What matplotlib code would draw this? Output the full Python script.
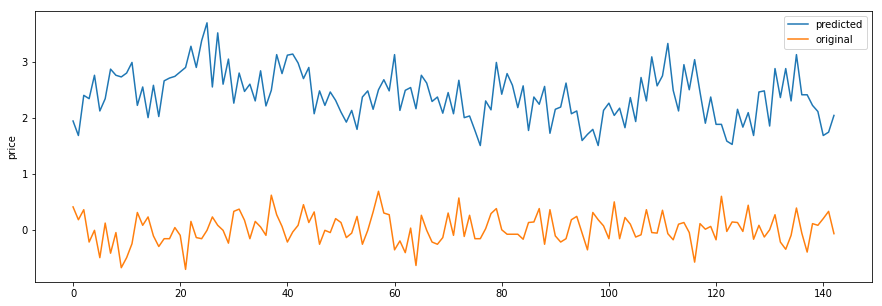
import matplotlib
matplotlib.use("Agg")
import matplotlib.pyplot as plt

# predicted vs original prices (index 0..142)
predicted = [
    1.95, 1.69, 2.41, 2.35, 2.77, 2.13, 2.35, 2.88, 2.77, 2.74,
    2.81, 3.00, 2.23, 2.56, 2.01, 2.59, 2.03, 2.67, 2.72, 2.75,
    2.83, 2.91, 3.29, 2.91, 3.39, 3.71, 2.56, 3.53, 2.61, 3.06,
    2.27, 2.81, 2.48, 2.61, 2.31, 2.85, 2.22, 2.50, 3.14, 2.80,
    3.13, 3.15, 2.99, 2.71, 2.91, 2.08, 2.49, 2.23, 2.47, 2.32,
    2.11, 1.93, 2.14, 1.80, 2.38, 2.49, 2.16, 2.51, 2.69, 2.49,
    3.14, 2.14, 2.50, 2.55, 2.17, 2.77, 2.63, 2.30, 2.38, 2.09,
    2.46, 2.08, 2.68, 2.01, 2.04, 1.78, 1.51, 2.31, 2.15, 3.00,
    2.43, 2.80, 2.59, 2.19, 2.58, 1.78, 2.38, 2.25, 2.57, 1.73,
    2.16, 2.20, 2.63, 2.08, 2.13, 1.60, 1.71, 1.80, 1.51, 2.14,
    2.27, 2.05, 2.18, 1.83, 2.37, 1.94, 2.73, 2.31, 3.10, 2.58,
    2.76, 3.34, 2.50, 2.13, 2.96, 2.51, 3.05, 2.47, 1.91, 2.38,
    1.89, 1.89, 1.59, 1.53, 2.16, 1.84, 2.10, 1.69, 2.47, 2.49,
    1.86, 2.89, 2.37, 2.89, 2.31, 3.14, 2.42, 2.42, 2.23, 2.12,
    1.69, 1.75, 2.05,
]
original = [
    0.41, 0.18, 0.36, -0.22, -0.01, -0.50, 0.12, -0.42, -0.05, -0.68,
    -0.50, -0.25, 0.31, 0.08, 0.23, -0.11, -0.30, -0.16, -0.16, 0.04,
    -0.10, -0.71, 0.15, -0.14, -0.16, -0.01, 0.23, 0.08, -0.01, -0.24,
    0.33, 0.37, 0.17, -0.16, 0.15, 0.05, -0.10, 0.62, 0.27, 0.06,
    -0.22, -0.04, 0.08, 0.45, 0.13, 0.32, -0.26, -0.01, -0.05, 0.20,
    0.13, -0.14, -0.06, 0.24, -0.26, -0.01, 0.32, 0.69, 0.30, 0.27,
    -0.36, -0.20, -0.41, 0.03, -0.64, 0.26, -0.01, -0.22, -0.26, -0.14,
    0.30, -0.10, 0.57, -0.12, 0.26, -0.16, -0.16, 0.02, 0.29, 0.38,
    0.00, -0.08, -0.08, -0.08, -0.17, 0.13, 0.14, 0.38, -0.26, 0.36,
    -0.11, -0.22, -0.16, 0.18, 0.24, -0.06, -0.36, 0.31, 0.18, 0.07,
    -0.16, 0.50, -0.16, 0.22, 0.10, -0.13, -0.09, 0.36, -0.05, -0.06,
    0.35, -0.07, -0.18, 0.10, 0.13, -0.05, -0.58, 0.11, 0.01, 0.06,
    -0.18, 0.60, -0.03, 0.14, 0.13, -0.03, 0.44, -0.17, 0.08, -0.13,
    0.00, 0.27, -0.22, -0.35, -0.10, 0.39, -0.06, -0.40, 0.11, 0.08,
    0.20, 0.33, -0.07,
]

fig = plt.figure(figsize=(882 / 72, 306 / 72), dpi=72)
ax = fig.add_axes([35 / 882, 24.3 / 306, 837 / 882, 271.2 / 306])
ax.plot(predicted, label="predicted")
ax.plot(original, label="original")
ax.set_ylabel("price")
ax.set_xticks([0, 20, 40, 60, 80, 100, 120, 140])
ax.set_yticks([0, 1, 2, 3])
ax.legend(loc="upper right")

fig.savefig("out.png", dpi=72)
